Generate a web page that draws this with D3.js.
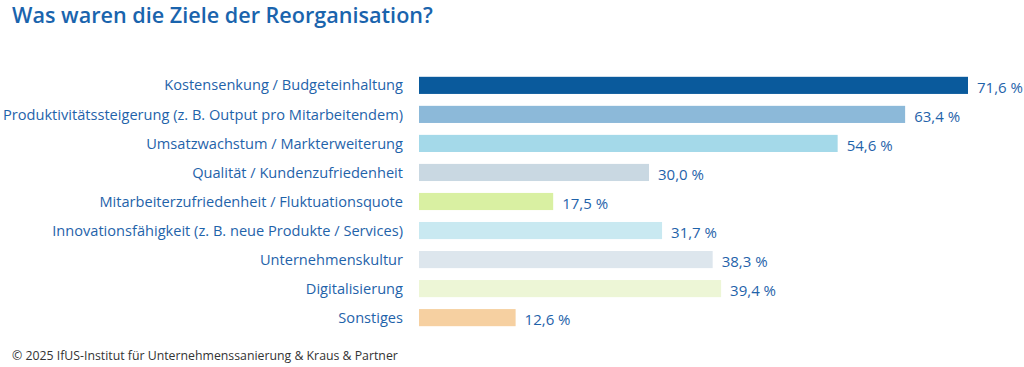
<!DOCTYPE html>
<html><head><meta charset="utf-8">
<script src="https://cdn.jsdelivr.net/npm/d3@7"></script>
<style>body{margin:0;background:#fff;} svg{display:block;}</style>
</head><body>
<script>
const categories = ["Kostensenkung / Budgeteinhaltung","Produktivitätssteigerung (z. B. Output pro Mitarbeitendem)","Umsatzwachstum / Markterweiterung","Qualität / Kundenzufriedenheit","Mitarbeiterzufriedenheit / Fluktuationsquote","Innovationsfähigkeit (z. B. neue Produkte / Services)","Unternehmenskultur","Digitalisierung","Sonstiges"];
const values = [71.6,63.4,54.6,30.0,17.5,31.7,38.3,39.4,12.6];
const colors = ["#0a5a9c","#8cb9d9","#a4d9e9","#c9d8e2","#d9f0a2","#c9e9f1","#dde6ed","#edf6d6","#f6d0a1"];
const title = "Was waren die Ziele der Reorganisation?";
const footer = "© 2025 IfUS-Institut für Unternehmenssanierung & Kraus & Partner";

const W=1024,H=367;
const svg=d3.select("body").append("svg").attr("width",W).attr("height",H);
const font="'Open Sans', sans-serif";
const x=d3.scaleLinear().domain([0,71.6]).range([419,968]);
const y=d3.scaleBand().domain(categories).range([71,332]).paddingInner(0.41).paddingOuter(0.2);
svg.append("text").attr("x",12).attr("y",23).text(title).attr("font-family",font).attr("font-size",21.6).attr("font-weight",600).attr("fill","#1a64ad");
svg.selectAll("rect.bar").data(values).join("rect").attr("class","bar")
 .attr("x",x(0)).attr("y",(d,i)=>y(categories[i])).attr("width",d=>x(d)-x(0)).attr("height",y.bandwidth()).attr("fill",(d,i)=>colors[i]);
svg.selectAll("text.cat").data(categories).join("text").attr("class","cat")
 .attr("x",403).attr("y",d=>y(d)+y.bandwidth()/2).attr("dy","0.35em").attr("text-anchor","end")
 .attr("font-family",font).attr("font-size",14.6).attr("fill","#1f63aa").text(d=>d);
svg.selectAll("text.val").data(values).join("text").attr("class","val")
 .attr("x",d=>x(d)+9).attr("y",(d,i)=>y(categories[i])+y.bandwidth()/2+2).attr("dy","0.35em")
 .attr("font-family",font).attr("font-size",15).attr("fill","#1f63aa").text(d=>d3.format(".1f")(d).replace(".",",")+" %");
svg.append("text").attr("x",12).attr("y",360).text(footer).attr("font-family",font).attr("font-size",12.3).attr("fill","#333");
</script>
</body></html>
